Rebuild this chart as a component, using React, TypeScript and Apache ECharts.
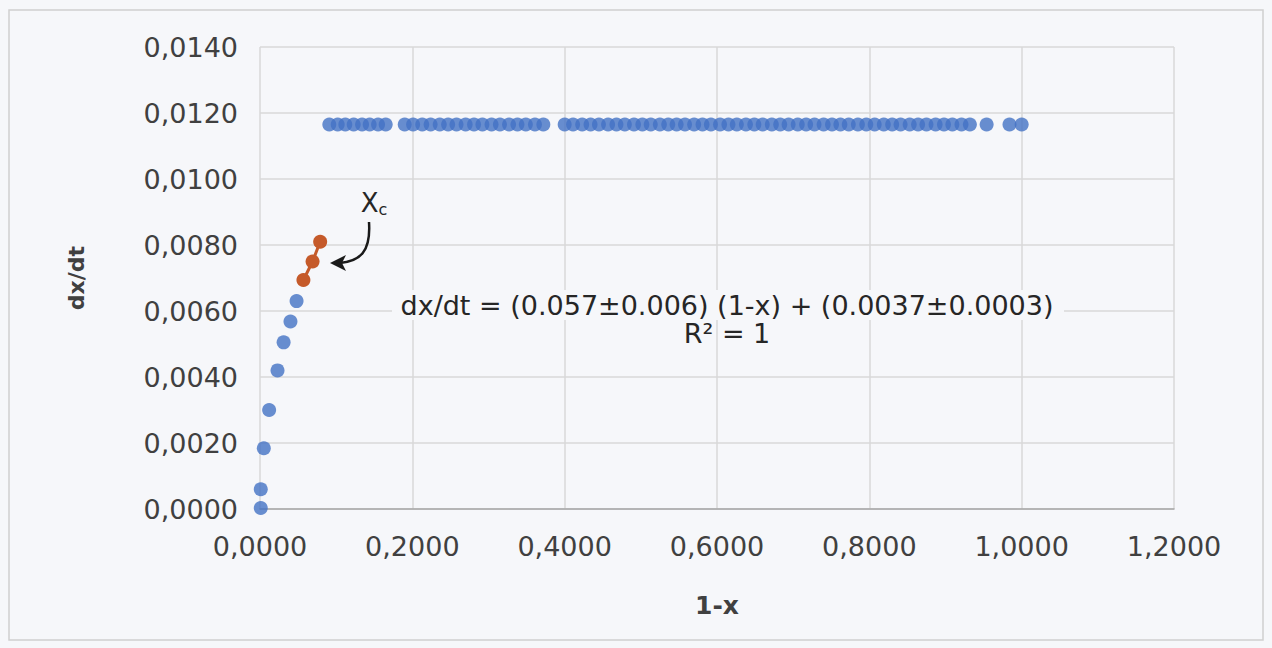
import React, { useEffect, useRef } from "react";
import * as echarts from "echarts";

const xTicks = { min: 0, max: 1.2, interval: 0.2 };
const yTicks = { min: 0, max: 0.014, interval: 0.002 };

const lowBlueX = [0.001, 0.001, 0.005, 0.012, 0.023, 0.031, 0.040, 0.048];
const lowBlueY = [0.00003, 0.0006, 0.00184, 0.0030, 0.0042, 0.00505, 0.00568, 0.0063];

const plateauX = [
  0.091, 0.102, 0.112, 0.123, 0.134, 0.144, 0.155, 0.165,
  0.190, 0.201, 0.213, 0.224, 0.236, 0.247, 0.258, 0.270, 0.281, 0.292, 0.304, 0.315, 0.327, 0.338, 0.349, 0.361, 0.372,
  0.400, 0.411, 0.423, 0.434, 0.445, 0.457, 0.468, 0.479, 0.491, 0.502,
  0.513, 0.525, 0.536, 0.547, 0.558, 0.570, 0.581, 0.592, 0.604, 0.615,
  0.626, 0.638, 0.649, 0.660, 0.672, 0.683, 0.694, 0.706, 0.717, 0.728,
  0.740, 0.751, 0.762, 0.773, 0.785, 0.796, 0.807, 0.819, 0.830, 0.841,
  0.853, 0.864, 0.875, 0.887, 0.898, 0.909, 0.921, 0.932,
  0.954, 0.984, 1.000,
];
const plateauY = 0.01165;

const orangeX = [0.057, 0.069, 0.079];
const orangeY = [0.00694, 0.0075, 0.0081];

const equationText = "dx/dt = (0.057±0.006) (1-x) + (0.0037±0.0003)";
const r2Text = "R² = 1";
const xAxisTitle = "1-x";
const yAxisTitle = "dx/dt";

const FONT = "'DejaVu Sans', Verdana, sans-serif";
const BG = "#f6f7fa";
const fmt = (v: number) => v.toFixed(4).replace(".", ",");

export default function App() {
  const ref = useRef<HTMLDivElement>(null);
  useEffect(() => {
    if (!ref.current) return;
    const chart = echarts.init(ref.current, null, { renderer: "svg" });
    const blueData = [
      ...lowBlueX.map((x, i) => [x, lowBlueY[i]]),
      ...plateauX.map((x) => [x, plateauY]),
    ];
    const orangeData = orangeX.map((x, i) => [x, orangeY[i]]);
    chart.setOption({
      animation: false,
      backgroundColor: BG,
      grid: { left: 260, right: 98, top: 47, bottom: 139 },
      xAxis: {
        type: "value",
        min: xTicks.min,
        max: xTicks.max,
        interval: xTicks.interval,
        name: xAxisTitle,
        nameLocation: "middle",
        nameGap: 84,
        nameTextStyle: { fontFamily: FONT, fontWeight: "bold", fontSize: 25, color: "#404040" },
        axisLine: { show: true, lineStyle: { color: "#a6a6a6", width: 1.5 } },
        axisTick: { show: false },
        axisLabel: { formatter: fmt, fontFamily: FONT, fontSize: 27, color: "#404040", margin: 24 },
        splitLine: { show: true, lineStyle: { color: "#d9d9d9", width: 1.5 } },
      },
      yAxis: {
        type: "value",
        min: yTicks.min,
        max: yTicks.max,
        interval: yTicks.interval,
        name: yAxisTitle,
        nameLocation: "middle",
        nameGap: 173,
        nameRotate: 90,
        nameTextStyle: { fontFamily: FONT, fontWeight: "bold", fontSize: 22, color: "#404040" },
        axisLine: { show: false },
        axisTick: { show: false },
        axisLabel: { formatter: fmt, fontFamily: FONT, fontSize: 27, color: "#404040", margin: 22 },
        splitLine: { show: true, lineStyle: { color: "#d9d9d9", width: 1.5 } },
      },
      series: [
        {
          type: "scatter",
          data: blueData,
          symbol: "circle",
          symbolSize: 14,
          itemStyle: { color: "#4472C4" },
          z: 3,
        },
        {
          type: "line",
          data: orangeData,
          symbol: "circle",
          symbolSize: 14,
          showSymbol: true,
          lineStyle: { color: "#C55A2A", width: 3 },
          itemStyle: { color: "#C55A2A" },
          z: 3,
        },
      ],
      graphic: [
        {
          type: "rect",
          z: 1,
          shape: { x: 9, y: 10, width: 1254, height: 630 },
          style: { fill: "none", stroke: "#d0d0d0", lineWidth: 1.5 },
          silent: true,
        },
        {
          type: "rect",
          z: 10,
          shape: { x: 392, y: 290, width: 672, height: 30 },
          style: { fill: BG },
          silent: true,
        },
        {
          type: "text",
          z: 11,
          x: 727,
          y: 305,
          style: {
            text: equationText,
            fontFamily: FONT,
            fontSize: 27,
            fill: "#262626",
            align: "center",
            verticalAlign: "middle",
          },
        },
        {
          type: "text",
          z: 11,
          x: 727,
          y: 333,
          style: {
            text: r2Text,
            fontFamily: FONT,
            fontSize: 27,
            fill: "#262626",
            align: "center",
            verticalAlign: "middle",
          },
        },
        {
          type: "text",
          z: 11,
          x: 374,
          y: 203,
          style: {
            text: "{a|X}{b|c}",
            rich: {
              a: { fontFamily: FONT, fontSize: 26, fill: "#262626" },
              b: { fontFamily: FONT, fontSize: 16, fill: "#262626", padding: [12, 0, 0, 0] },
            },
            align: "center",
            verticalAlign: "middle",
          },
        },
        {
          type: "bezierCurve",
          z: 11,
          shape: { x1: 369, y1: 222, cpx1: 371, cpy1: 252, cpx2: 360, cpy2: 261, x2: 340, y2: 263 },
          style: { stroke: "#1a1a1a", lineWidth: 2.5, fill: "none" },
        },
        {
          type: "polygon",
          z: 11,
          shape: { points: [[330, 263], [346, 255], [342, 263], [346, 271]] },
          style: { fill: "#1a1a1a" },
        },
      ],
    });
    return () => chart.dispose();
  }, []);
  return (
    <div
      ref={ref}
      style={{ position: "fixed", left: 0, top: 0, width: 1272, height: 648 }}
    />
  );
}
